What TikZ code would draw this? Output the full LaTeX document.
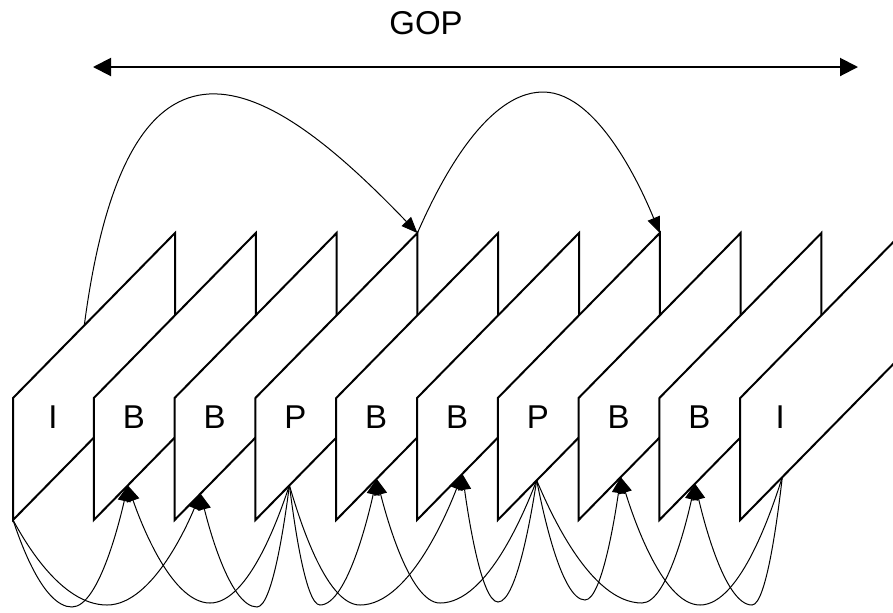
\documentclass[tikz,border=0pt]{standalone}
\usepackage{fontspec}
\setmainfont{Liberation Sans}
\usetikzlibrary{arrows.meta,calc}
\tikzset{
  gop/.style={font=\fontsize{16.5}{19}\selectfont, text=black},
  gopframe/.style={draw=black, fill=white, line width=1pt},
  goplbl/.style={gop, inner sep=0pt},
  goplink/.style={-{Triangle[length=8pt,width=6.5pt]}, line width=0.5pt, draw=black},
  gopspan/.style={{Triangle[length=9pt,width=9pt]}-{Triangle[length=9pt,width=9pt]}, line width=1pt},
}

\begin{document}
\begin{tikzpicture}[x=0.5pt, y=-0.5pt]
  \useasboundingbox (0,0) rectangle (893,612);
  \clip (0,0) rectangle (893,612);

  % span of the group of pictures
  \coordinate (gopL) at (93,67);
  \coordinate (gopR) at (858,67);
  \draw[gopspan] (gopL) -- (gopR);
  \node[goplbl] (goptxt) at (426,23) {GOP};

  % frames, drawn back to front
  \foreach \lbl [count=\i from 0] in {I,B,B,P,B,B,P,B,B,I} {
    \coordinate (f\i-bl) at ({13+80.8*\i},520);
    \coordinate (f\i-tl) at ({13+80.8*\i},398);
    \coordinate (f\i-tr) at ({175+80.8*\i},233);
    \coordinate (f\i-br) at ({175+80.8*\i},355);
    \draw[gopframe] (f\i-bl) -- (f\i-tl) -- (f\i-tr) -- (f\i-br) -- cycle;
    \node[goplbl] (lbl\i) at ({53+80.8*\i},417) {\lbl};
  }

  % reference points on the lower edges
  \coordinate (i0) at (f0-bl);
  \coordinate (b1) at ($(f1-bl)!0.21!(f1-br)$);
  \coordinate (b2) at ($(f2-bl)!0.16!(f2-br)$);
  \coordinate (p3) at ($(f3-bl)!0.21!(f3-br)$);
  \coordinate (b4) at ($(f4-bl)!0.25!(f4-br)$);
  \coordinate (b5) at ($(f5-bl)!0.28!(f5-br)$);
  \coordinate (p6) at ($(f6-bl)!0.24!(f6-br)$);
  \coordinate (b7) at ($(f7-bl)!0.26!(f7-br)$);
  \coordinate (b8) at ($(f8-bl)!0.22!(f8-br)$);
  \coordinate (i9) at ($(f9-bl)!0.26!(f9-br)$);
  \coordinate (i0top) at ($(f0-tl)!0.44!(f0-tr)$);

  % forward prediction
  \draw[goplink] (i0top) .. controls (130,-22) and (280,90) .. (f3-tr);
  \draw[goplink] (f3-tr) parabola bend (543,92) (f6-tr);

  % bidirectional prediction
  \foreach \src/\dst/\bx/\by in {i0/b1/72/607, i0/b2/107/605,
      p3/b1/210/603, p3/b2/257/607, p3/b4/320/605, p3/b5/360/605,
      p6/b4/440/603, p6/b5/498/602, p6/b7/585/600, p6/b8/642/603,
      i9/b7/700/605, i9/b8/752/605}
    \draw[goplink] (\src) parabola bend (\bx,\by) (\dst);
\end{tikzpicture}
\end{document}
